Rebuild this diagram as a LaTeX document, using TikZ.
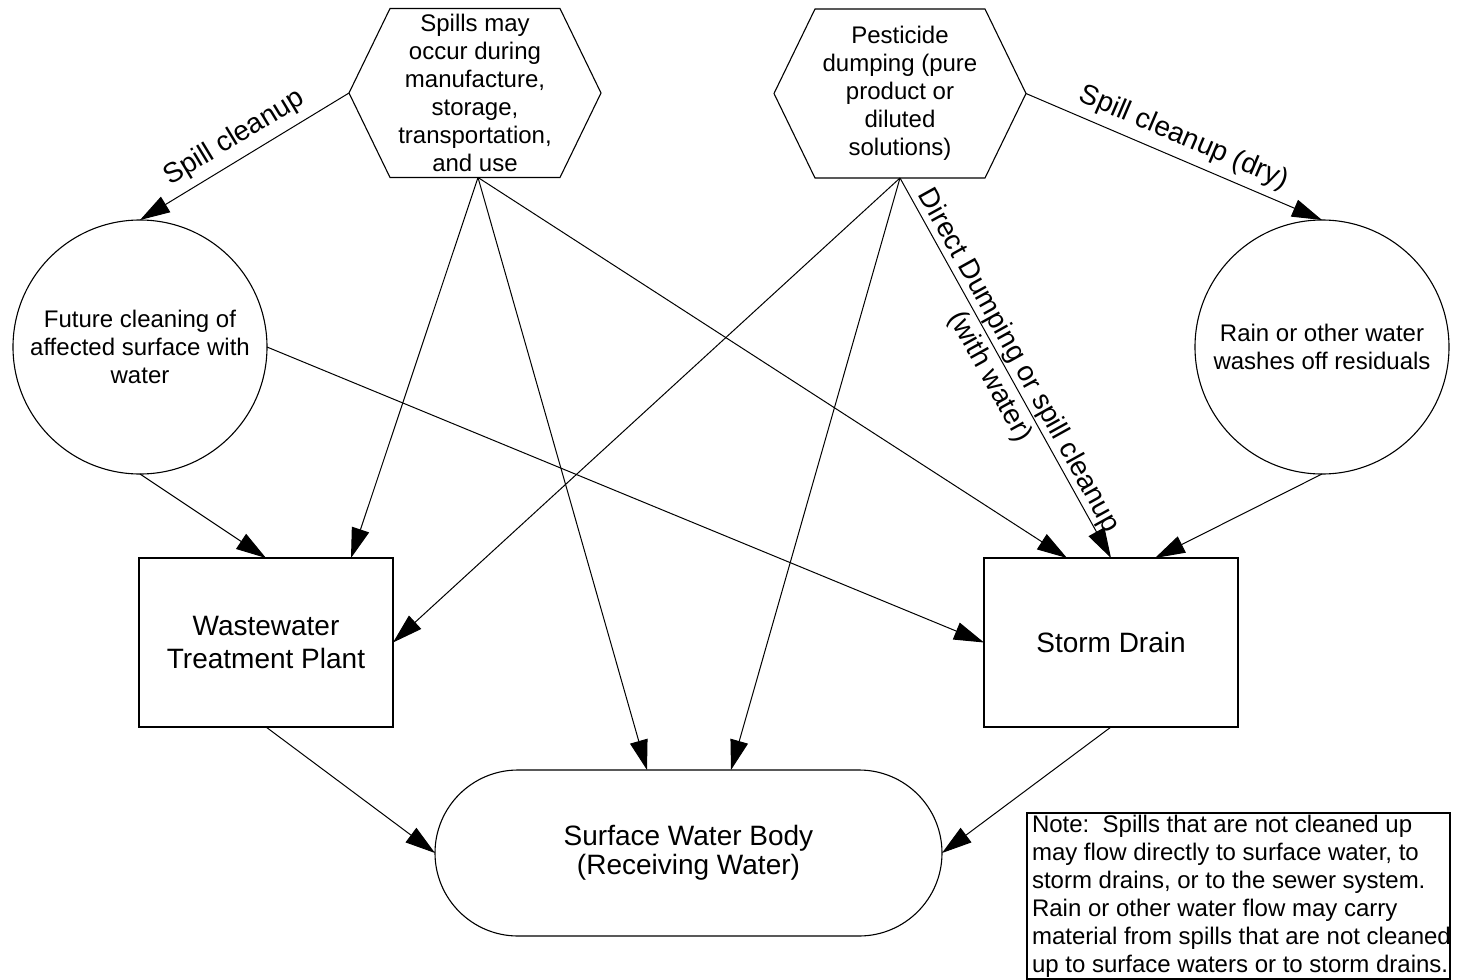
\documentclass[tikz,border=0pt]{standalone}
\usepackage{fontspec}
\setmainfont{Liberation Sans}
\usetikzlibrary{arrows.meta,shapes.misc,calc}

\begin{document}
\begin{tikzpicture}[x=0.5pt,y=-0.5pt,
  every node/.style={inner sep=0pt, outer sep=0pt},
  small/.style={font=\fontsize{12}{14}\selectfont},
  large/.style={font=\fontsize{14}{16.5}\selectfont},
  border/.style={draw, line width=0.55pt},
  hexbox/.style={small, align=center, minimum width=126pt, minimum height=84.5pt},
  ringbox/.style={small, align=center, circle, border, minimum size=127pt},
  plantbox/.style={large, align=center, rectangle, border, minimum width=127pt, minimum height=84.5pt},
  waterbox/.style={font=\fontsize{14}{14.5}\selectfont, align=center, rounded rectangle, border, minimum width=253.5pt, minimum height=83pt},
  flow/.style={line width=0.5pt, -{Triangle[length=15pt,width=9pt]}},
  flowlabel/.style={large, sloped}
]
\useasboundingbox (0,0) rectangle (1458,980);

% sources
\node[hexbox] (spills) at (475,93) {Spills may\\occur during\\manufacture,\\storage,\\transportation,\\and use};
\node[hexbox] (dumping) at (900,93.5) {Pesticide\\dumping (pure\\product or\\diluted\\solutions)};
\foreach \h in {spills,dumping}
  \draw[line width=0.55pt] (\h.west) -- ([xshift=20.5pt]\h.north west) -- ([xshift=-20.5pt]\h.north east)
    -- (\h.east) -- ([xshift=-20.5pt]\h.south east) -- ([xshift=20.5pt]\h.south west) -- cycle;

% intermediate processes
\node[ringbox] (future) at (140,347) {Future cleaning of\\affected surface with\\water};
\node[ringbox] (rain) at (1322,347) {Rain or other water\\washes off residuals};

% conveyance
\node[plantbox] (wtp) at (266,642.5) {Wastewater\\Treatment Plant};
\node[plantbox] (drain) at (1111,642.5) {Storm Drain};

% receiving water
\node[waterbox] (water) at (688.5,853) {Surface Water Body\\(Receiving Water)};

% note
\node[border, anchor=north west, minimum width=211.5pt, minimum height=83pt] (notebox) at (1027,813) {};
\node[small, align=left, anchor=north west] (notetext) at (1032,815.5)
  {Note:~~Spills that are not cleaned up\\may flow directly to surface water, to\\storm drains, or to the sewer system.\\Rain or other water flow may carry\\material from spills that are not cleaned\\up to surface waters or to storm drains.};

% flows from spills
\draw[flow] (spills.west) -- node[flowlabel, pos=0.495, above=4pt] {Spill cleanup} (future.north);
\draw[flow] ([xshift=1.5pt]spills.south) -- ($(wtp.north)+(85,0)$);
\draw[flow] ([xshift=1.5pt]spills.south) -- ($(water.north)+(-41.5,0)$);
\draw[flow] ([xshift=1.5pt]spills.south) -- ($(drain.north)+(-44,0)$);

% flows from dumping
\draw[flow] (dumping.south) -- (wtp.east);
\draw[flow] (dumping.south) -- ($(water.north)+(42.5,0)$);
\draw[flow] (dumping.south) -- node[flowlabel, pos=0.5, align=center, yshift=-0.9pt]
  {Direct Dumping or spill cleanup\\(with water)} (drain.north);
\draw[flow] (dumping.east) -- node[flowlabel, pos=0.505, above=4pt] {Spill cleanup (dry)} (rain.north);

% flows from intermediate processes
\draw[flow] (future.south) -- (wtp.north);
\draw[flow] (future.east) -- (drain.west);
\draw[flow] (rain.south) -- ($(drain.north)+(44,0)$);

% discharge to receiving water
\draw[flow] (wtp.south) -- (water.west);
\draw[flow] (drain.south) -- (water.east);
\end{tikzpicture}
\end{document}
